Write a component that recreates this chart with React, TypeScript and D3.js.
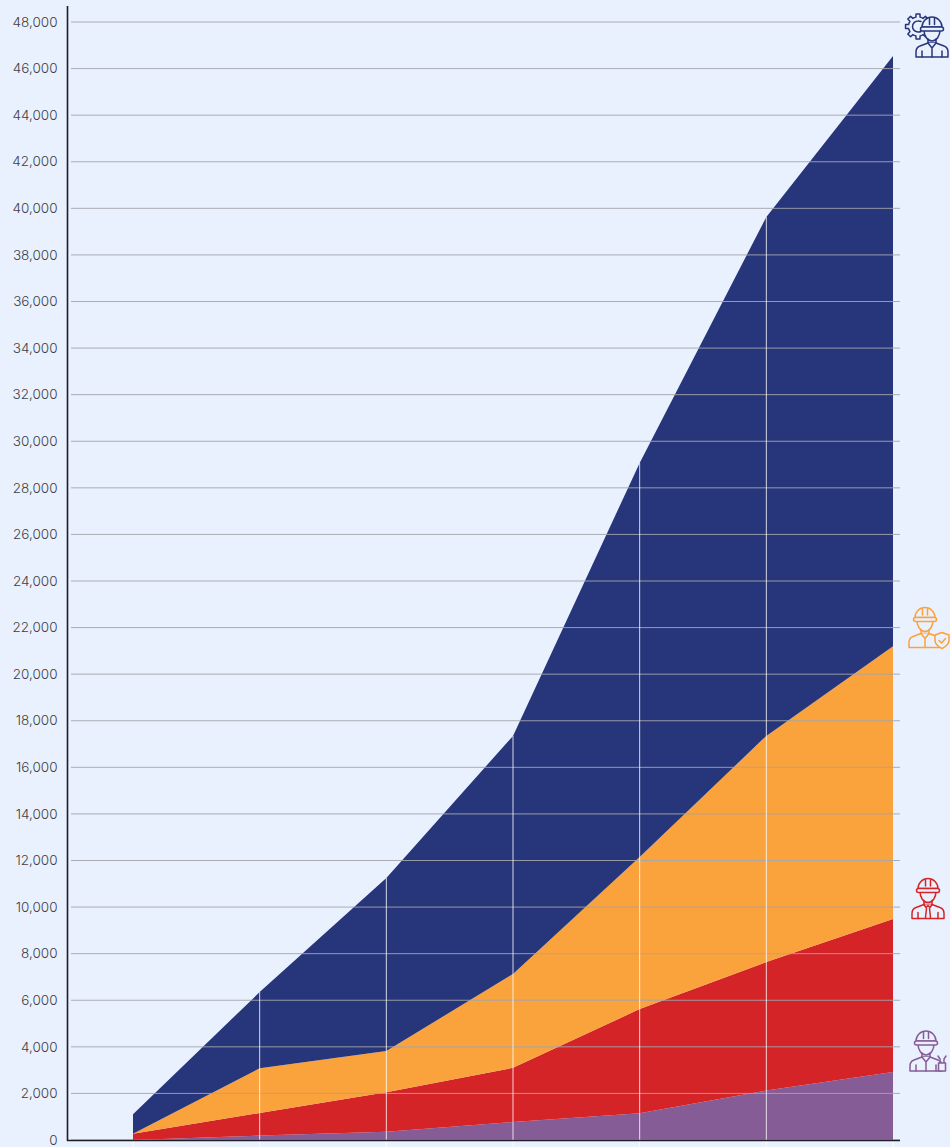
import React from "react";
import * as d3 from "d3";

const periods = ["P1", "P2", "P3", "P4", "P5", "P6", "P7"];
const purpleValues = [0, 190, 350, 770, 1150, 2120, 2920];
const redValues = [270, 970, 1700, 2330, 4470, 5520, 6570];
const orangeValues = [0, 1920, 1770, 4030, 6530, 9710, 11710];
const navyValues = [840, 3270, 7430, 10220, 16920, 22280, 25340];
const seriesKeys = ["purple", "red", "orange", "navy"];
const seriesColors = ["#865C97", "#D42428", "#FAA23C", "#27367B"];
const yTicks = d3.range(0, 48001, 2000);

const W = 950, H = 1147;
const BG = "#E9F1FF";
const x = d3.scalePoint<string>().domain(periods).range([133, 893]);
const y = d3.scaleLinear().domain([0, 48000]).range([1140, 22]);
const rows = periods.map((p, i) => ({
  period: p,
  purple: purpleValues[i],
  red: redValues[i],
  orange: orangeValues[i],
  navy: navyValues[i],
}));
const stacked = d3.stack<any>().keys(seriesKeys)(rows);
const area = d3
  .area<any>()
  .x((d) => x(d.data.period) as number)
  .y0((d) => y(d[0]))
  .y1((d) => y(d[1]));
const top = stacked[stacked.length - 1];

const gearPath = (() => {
  const teeth = 8;
  const pts: [number, number][] = [];
  for (let i = 0; i < teeth; i++) {
    const a = (i / teeth) * Math.PI * 2;
    const s = (Math.PI * 2) / teeth;
    [[-0.5, 9.6], [-0.28, 9.6], [-0.2, 12.6], [0.2, 12.6], [0.28, 9.6]].forEach(([f, r]) => {
      const t = a + f * s;
      pts.push([Math.cos(t) * r, Math.sin(t) * r]);
    });
  }
  return d3.line()(pts) + "Z";
})();

const Icon = ({ tx, ty, color, children }: any) => (
  <g transform={`translate(${tx},${ty})`} fill="none" stroke={color} strokeWidth={1.5} strokeLinecap="round" strokeLinejoin="round">
    {children}
  </g>
);

const Worker = ({ tie, arms = true }: { tie?: boolean; arms?: boolean }) => (
  <g fill={BG}>
    <path d="M13 27L5 30C2 31 1 33 1 36V41H33V36C33 33 32 31 29 30L21 27Z" />
    <path d="M9 14c0 6 3.500 11 8 11s8-5 8-11z" />
    <path d="M13 23v4M21 23v4" />
    <path d="M7 11a10 10 0 0 1 20 0z" />
    <rect x={5.5} y={11} width={23} height={4} rx={2} />
    <path d="M14.500 2.500v6M19.500 2.500v6" />
    {tie ? (
      <path d="M13 27l2 3 2-2 2 2 2-3M15.500 31l-1 9M18.500 31l1 9" />
    ) : (
      <path d="M13 27l4 5 4-5M17 32v9" />
    )}
    {arms && <path d="M7 35v6M27 35v6" />}
  </g>
);

export default function App() {
  return (
    <svg
      width={W}
      height={H}
      viewBox={`0 0 ${W} ${H}`}
      style={{ position: "absolute", left: 0, top: 0, display: "block", background: BG }}
      fontFamily="Inter, 'Open Sans', sans-serif"
    >
      {stacked.map((s, i) => (
        <path key={s.key} d={area(s) as string} fill={seriesColors[i]} />
      ))}
      {yTicks.map((t) => (
        <g key={t}>
          <line x1={71} x2={900} y1={y(t)} y2={y(t)} stroke="#A3A5AB" strokeOpacity={0.9} strokeWidth={1} />
          <text x={57.500} y={y(t)} dy="0.35em" textAnchor="end" fontSize={13.5} fontWeight={300} fill="#3E3E44">
            {d3.format(",")(t)}
          </text>
        </g>
      ))}
      {top.map((d, i) => (
        <line
          key={periods[i]}
          x1={x(periods[i])}
          x2={x(periods[i])}
          y1={i === 0 || i === periods.length - 1 ? 1141 : y(d[1])}
          y2={H}
          stroke="#FFFFFF"
          strokeOpacity={0.8}
          strokeWidth={1}
        />
      ))}
      <line x1={67.500} x2={67.500} y1={6} y2={1141} stroke="#1E1E24" strokeWidth={1.6} />
      <line x1={67} x2={900} y1={1140.500} y2={1140.500} stroke="#1E1E24" strokeWidth={1.6} />
      <Icon tx={915} ty={16} color="#27367B">
        <path d={gearPath} transform="translate(3,10.500)" />
        <path d="M6 5.500a5.500 5.500 0 0 0-3 -0.500a5.500 5.500 0 0 0 0 11a5.500 5.500 0 0 0 3 -0.500" />
        <Worker />
      </Icon>
      <Icon tx={908} ty={606.500} color="#FAA23C">
        <Worker arms={false} />
        <path d="M34 26l7 2.500v5.500c0 4-3 6-7 8-4-2-7-4-7-8v-5.500z" fill={BG} />
        <path d="M31 34l2.500 2.500 4-4.500" />
      </Icon>
      <Icon tx={911} ty={877.500} color="#D42428">
        <Worker tie />
      </Icon>
      <Icon tx={909} ty={1030} color="#865C97">
        <Worker />
        <path d="M29.500 33h7v8h-7zM31 33v-4l-2-3M35 33v-4l2-3" fill={BG} />
      </Icon>
    </svg>
  );
}
